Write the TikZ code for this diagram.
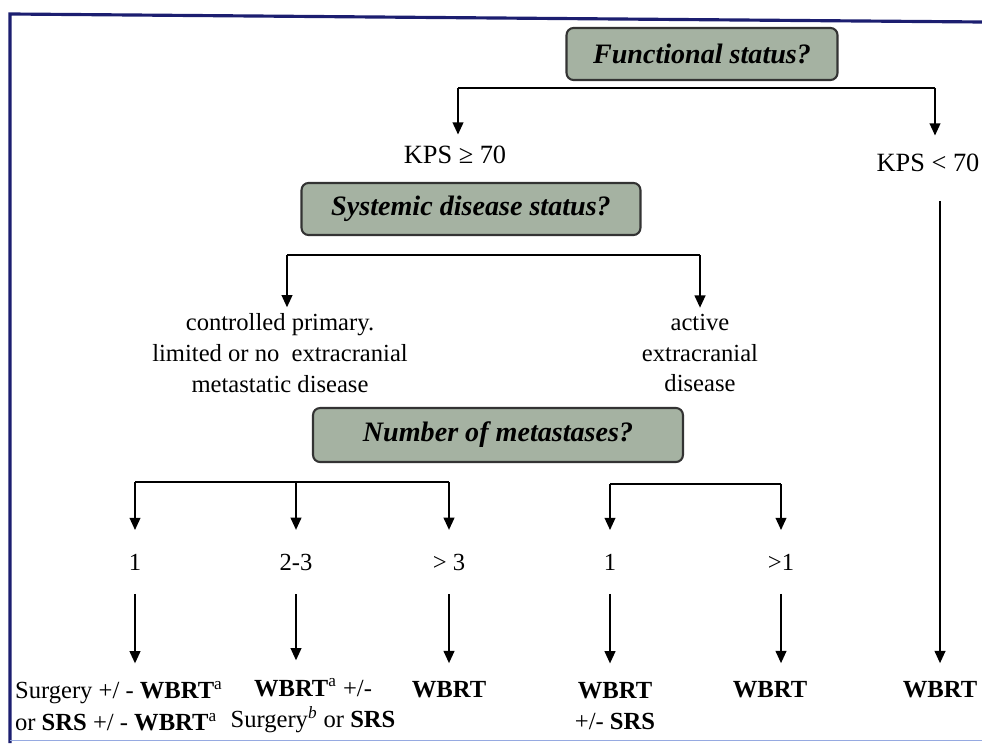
\documentclass[tikz,border=0pt]{standalone}
\usepackage{fontspec}
\setmainfont{Liberation Serif}
\usetikzlibrary{arrows.meta,positioning}
\definecolor{boxfill}{RGB}{165,178,162}
\definecolor{framenavy}{RGB}{28,30,112}
\definecolor{framelight}{RGB}{150,170,225}

\begin{document}
\begin{tikzpicture}[x=0.02cm,y=-0.02cm,align=center,font=\fontsize{14}{17.5}\selectfont]
\tikzstyle{question}=[draw=black!80,very thick,fill=boxfill,rounded corners=4pt,minimum height=1.04cm,font=\fontsize{16}{18}\selectfont\bfseries\itshape]
\tikzstyle{choice}=[align=center]
\tikzstyle{result}=[align=center,font=\fontsize{14}{18}\selectfont]
\tikzstyle{arr}=[-{Triangle[length=7pt,width=6pt]},line width=1.3pt]
\tikzstyle{bar}=[-,line width=1.3pt]

\useasboundingbox (0,0) rectangle (982,743);

% frame
\draw[framenavy,line width=1.8pt] (10,743) -- (10,14) -- (982,22);
\draw[framelight,thin] (10,740) -- (982,740);

% questions
\node[question,minimum width=5.42cm] (func) at (702,54) {Functional status?};
\node[question,minimum width=6.78cm] (sys) at (471,209) {Systemic disease status?};
\node[question,minimum width=7.4cm,minimum height=1.08cm] (num) at (498,435) {Number of metastases?};

% answers
\node[choice,font=\fontsize{15}{17.5}\selectfont] (kpshi) at (455,155) {KPS ≥ 70};
\node[choice,font=\fontsize{15}{17.5}\selectfont] (kpslo) at (928,163) {KPS < 70};
\node[choice] (ctrl) at (280,353) {controlled primary.\\limited or no\ \ extracranial\\metastatic disease};
\node[choice] (active) at (700,353) {active\\extracranial\\disease};

\node[choice] (m1) at (135,562) {1};
\node[choice] (m2) at (296,562) {2-3};
\node[choice] (m3) at (449,562) {> 3};
\node[choice] (m4) at (610,562) {1};
\node[choice] (m5) at (781,562) {>1};

% treatments
\node[result,align=left,anchor=west,inner sep=1pt] (res1) at (13,706) {Surgery +/ - \textbf{WBRT}\textsuperscript{a}\\or \textbf{SRS} +/ - \textbf{WBRT}\textsuperscript{a}};
\node[result] (res2) at (313,706) {\textbf{WBRT}\textsuperscript{a} +/-\\Surgery\textsuperscript{\itshape b} or \textbf{SRS}};
\node[result] (res3) at (449,690) {\textbf{WBRT}};
\node[result] (res4) at (615,706) {\textbf{WBRT}\\+/- \textbf{SRS}};
\node[result] (res5) at (770,690) {\textbf{WBRT}};
\node[result] (res6) at (940,690) {\textbf{WBRT}};

% brackets
\coordinate (f1) at (458,88);
\coordinate (f2) at (935,88);
\coordinate (s1) at (287,255);
\coordinate (s2) at (700,255);
\coordinate (n1) at (135,482);
\coordinate (n3) at (449,482);
\coordinate (n4) at (610,484);
\coordinate (n5) at (781,484);

\draw[bar] (f1) -- (f2);
\draw[arr,shorten >=3pt] (f1) -- (f1 |- kpshi.north);
\draw[arr,shorten >=7pt] (f2) -- (f2 |- kpslo.north);

\draw[bar] (s1) -- (s2);
\draw[arr] (s1) -- (s1 |- ctrl.north);
\draw[arr] (s2) -- (s2 |- active.north);

\draw[bar] (n1) -- (n3);
\draw[bar] (n4) -- (n5);
\foreach \m in {m1,m2,m3}
  \draw[arr,shorten >=10pt] (n1 -| \m) -- (\m.north);
\foreach \m in {m4,m5}
  \draw[arr,shorten >=10pt] (n4 -| \m) -- (\m.north);

% down to treatments
\foreach \m/\r in {m2/res2,m3/res3,m4/res4,m5/res5}
  \draw[arr,shorten <=10pt,shorten >=7pt] (\m.south) -- (\m.south |- \r.north);
\draw[arr,shorten <=10pt,shorten >=9pt] (m1.south) -- (m1.south |- res1.north);
\draw[arr,shorten <=13pt,shorten >=7pt] (kpslo.south -| res6) -- (res6.north);
\end{tikzpicture}
\end{document}
